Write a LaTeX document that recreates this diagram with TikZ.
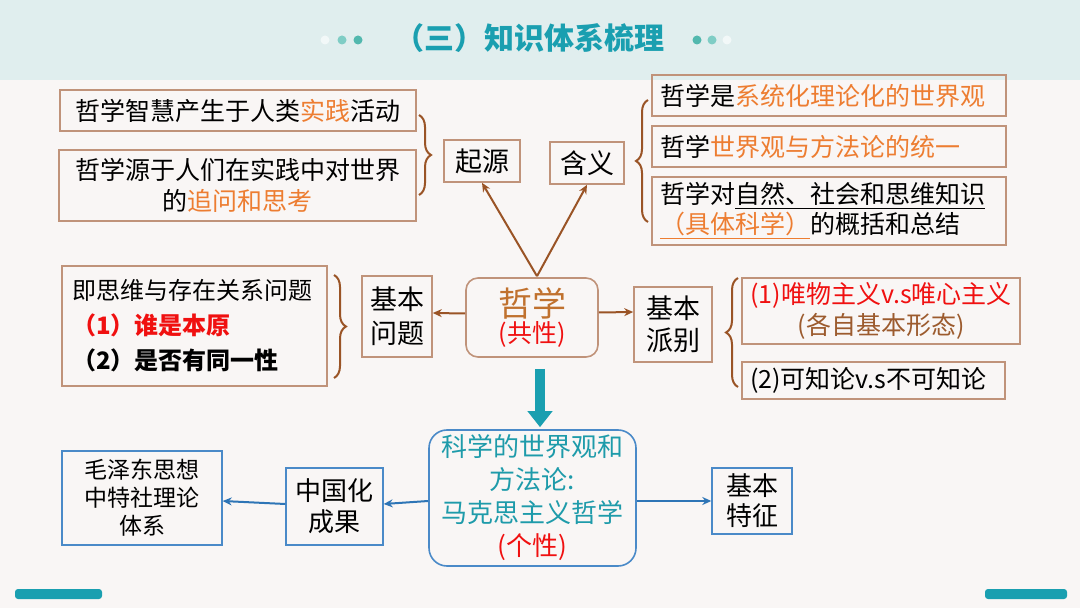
\documentclass[tikz,border=0pt]{standalone}
\usepackage{fontspec}
\setmainfont{Noto Sans CJK SC}
\usetikzlibrary{decorations.pathreplacing,arrows.meta,calc}
\definecolor{bgc}{HTML}{F9F6F5}
\definecolor{hdrc}{HTML}{E0EEEE}
\definecolor{tealc}{HTML}{1A9FB0}
\definecolor{ctext}{HTML}{1E9BAA}
\definecolor{orgc}{HTML}{ED7D31}
\definecolor{bordc}{HTML}{C0937A}
\definecolor{brnc}{HTML}{9A5426}
\definecolor{bluc}{HTML}{2E75B6}
\definecolor{blbord}{HTML}{4A8AC8}
\definecolor{zxc}{HTML}{C0712E}
\definecolor{dbrn}{HTML}{9C5B2E}
\definecolor{dot1}{HTML}{F2F8F8}
\definecolor{dot2}{HTML}{7FCDC5}
\definecolor{dot3}{HTML}{52B8AE}
\definecolor{redc}{HTML}{F01010}
\newcommand{\fs}[2]{\fontsize{#1}{#2}\selectfont}
\begin{document}
\begin{tikzpicture}[x=0.5pt,y=-0.5pt,
  bx/.style={draw=bordc,line width=0.8pt,inner xsep=4pt,inner ysep=0pt,align=center,font=\fs{12.5}{15.5}},
  lbx/.style={bx,align=left},
  bbx/.style={draw=blbord,line width=0.7pt,inner sep=0pt,align=center},
  brc/.style={draw=brnc,line width=1pt,decorate,decoration={brace,amplitude=6pt}},
  barr/.style={draw=brnc,line width=1pt,-{Stealth[length=4.5pt,width=4pt]}},
  blarr/.style={draw=bluc,line width=1pt,-{Stealth[length=4.5pt,width=4pt]}}]
\useasboundingbox (0,0) rectangle (1080,608);
\fill[bgc] (0,0) rectangle (1080,608);
\fill[hdrc] (0,0) rectangle (1080,80);
% title
\node[font=\fs{15}{18}\bfseries,text=tealc] (title) at (529,38) {（三）知识体系梳理};
\fill[dot1] (325,40) circle (4.5);
\fill[dot2] (342,40) circle (4.5);
\fill[dot3] (358,40) circle (4.5);
\fill[dot3] (697,40) circle (4.5);
\fill[dot2] (712,40) circle (4.5);
\fill[dot1] (727,40) circle (4.5);
% bottom bars
\fill[tealc,rounded corners=1.5pt] (15,589) rectangle (102,599);
\fill[tealc,rounded corners=1.5pt] (985,589) rectangle (1067,599);

% origin group
\node[bx,minimum width=178pt,minimum height=20.5pt] (a1) at (238,110.5) {哲学智慧产生于人类\textcolor{orgc}{实践}活动};
\node[bx,minimum width=178.5pt,minimum height=35.5pt] (a2) at (237.5,185.5) {哲学源于人们在实践中对世界\\的\textcolor{orgc}{追问和思考}};
\node[bx,font=\fs{13.5}{16},minimum width=38pt,minimum height=21pt] (qy) at (482,161) {起源};
\node[bx,font=\fs{13.5}{16},minimum width=37pt,minimum height=21pt] (hy) at (587,163) {含义};
\draw[brc] (419,115) -- (419,195);

% meaning group
\node[lbx,text width=169pt,minimum height=20.5pt] (b1) at (829,95.5) {哲学是\textcolor{orgc}{系统化理论化的世界观}};
\node[lbx,text width=169pt,minimum height=20.5pt] (b2) at (829,146.5) {哲学\textcolor{orgc}{世界观与方法论的统一}};
\node[lbx,text width=169pt,minimum height=34pt,font=\fs{12.5}{15}] (b3) at (829,211) {哲学对\underline{自然、社会和思维知识}\\\textcolor{orgc}{\underline{（具体科学）}}的概括和总结};
\draw[brc] (648,222) -- (648,100);

% center philosophy
\node[draw=bordc,line width=0.8pt,rounded corners=6pt,minimum width=66pt,minimum height=39.5pt,align=center,inner sep=0pt] (zx) at (532,317.5)
  {{\fs{17}{19}\color{zxc}哲学}\\[1pt]{\fs{12.5}{15}\color{redc}(共性)}};
\node[bx,font=\fs{13.5}{17},minimum width=35pt,minimum height=40.5pt,inner xsep=0pt] (wt) at (397,316.5) {基本\\问题};
\node[bx,font=\fs{13.5}{16},minimum width=39pt,minimum height=37.5pt,inner xsep=0pt] (pb) at (673,324.5) {基本\\派别};

\node[lbx,text width=122.5pt,minimum height=60pt,inner xsep=5pt,font=\fs{12}{17.5}] (cq) at (194.5,326)
  {即思维与存在关系问题\\\textcolor{redc}{\bfseries（1）谁是本原}\\\textbf{（2）是否有同一性}};
\draw[brc] (334,275) -- (334,378);

\node[bx,minimum width=139pt,minimum height=33pt,font=\fs{12.5}{15.5}] (d1) at (881,311)
  {\textcolor{redc}{(1)唯物主义v.s唯心主义}\\\textcolor{dbrn}{(各自基本形态)}};
\node[lbx,text width=123.5pt,minimum height=18.5pt] (d2) at (873.5,380.5) {(2)可知论v.s不可知论};
\draw[brc] (738,387) -- (738,278);

% connectors
\draw[barr] ($(zx.north)+(5,-1)$) -- (qy.south);
\draw[barr] ($(zx.north)+(5,-1)$) -- (hy.south);
\draw[barr] ($(zx.west)+(0,-4)$) -- ($(wt.east)+(0,-3.5)$);
\draw[barr] ($(zx.east)+(0,-5)$) -- ($(pb.west)+(0,-12.5)$);

% bottom group
\node[draw=blbord,line width=0.8pt,rounded corners=9pt,minimum width=103.5pt,minimum height=68pt,align=center,inner sep=0pt,font=\fs{13}{16.5},text=ctext] (kx) at (532.5,498)
  {科学的世界观和\\方法论:\\马克思主义哲学\\{\color{redc}(个性)}};
\node[bbx,font=\fs{13}{15.5},minimum width=48.5pt,minimum height=38.5pt] (zg) at (334.5,506.5) {中国化\\成果};
\node[bbx,font=\fs{11.5}{14},minimum width=80pt,minimum height=47pt] (mz) at (142,498) {毛泽东思想\\中特社理论\\体系};
\node[bbx,font=\fs{13}{15},minimum width=40pt,minimum height=33pt] (tz) at (752,501) {基本\\特征};

\draw[line width=5pt,draw=tealc,-{Triangle[length=8pt,width=12pt]}] ($(zx.south)+(8,11)$) -- ($(kx.north)+(7.5,-2)$);
\draw[blarr] ($(kx.west)+(0,3)$) -- ($(zg.east)+(0,-2.5)$);
\draw[blarr] ($(zg.west)+(0,-2.5)$) -- ($(mz.east)+(0,3)$);
\draw[blarr] ($(kx.east)+(0,3)$) -- (tz.west);
\end{tikzpicture}
\end{document}
